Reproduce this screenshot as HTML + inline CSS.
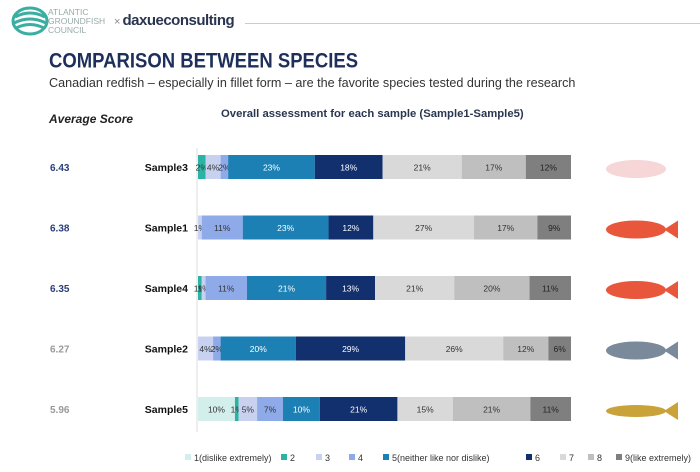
<!DOCTYPE html>
<html><head><meta charset="utf-8"><style>
body{margin:0;width:700px;height:472px;background:#fff;font-family:"Liberation Sans","Noto Sans CJK SC",sans-serif;overflow:hidden;position:relative}
.a{position:absolute}
</style></head><body>
<svg class="a" style="left:10px;top:5px" width="40" height="32" viewBox="0 0 40 32"><ellipse cx="20" cy="16" rx="17" ry="13" fill="none" stroke="#3aaea0" stroke-width="3"/><path d="M5 12 Q20 4 35 12 M4 18 Q20 10 36 18 M6 23 Q20 16 34 23" fill="none" stroke="#3aaea0" stroke-width="3"/></svg>
<div class="a" style="left:48px;top:8px;font-size:8.5px;line-height:9px;color:#9aa">ATLANTIC<br>GROUNDFISH<br>COUNCIL</div>
<div class="a" style="left:114px;top:12px;font-size:15px;font-weight:bold;color:#2a3550;letter-spacing:-0.5px"><span style="font-weight:normal;color:#888;font-size:11px">× </span>daxueconsulting</div>
<div class="a" style="left:245px;top:23px;width:455px;height:1px;background:#ccc"></div>
<div class="a" style="left:49px;top:48px;font-size:18.5px;font-weight:bold;color:#1d2f5a;transform:scaleY(1.15);transform-origin:left top">COMPARISON BETWEEN SPECIES</div>
<div class="a" style="left:49px;top:76px;font-size:12.6px;color:#333">Canadian redfish – especially in fillet form – are the favorite species tested during the research</div>
<div class="a" style="left:49px;top:112px;font-size:12px;font-weight:bold;font-style:italic;color:#222">Average Score</div>
<div class="a" style="left:221px;top:108px;font-size:11.3px;font-weight:bold;color:#2a3550">Overall assessment for each sample (Sample1-Sample5)</div>
<svg id="c" class="a" style="left:0;top:0" width="700" height="472"></svg>
<script>
const samples=["Sample3","Sample1","Sample4","Sample2","Sample5"];
const scores=["6.43","6.38","6.35","6.27","5.96"];
const scoreColors=["#2a3f7a","#2a3f7a","#2a3f7a","#999","#999"];
const levels=["1(dislike extremely)","2","3","4","5(neither like nor dislike)","6","7","8","9(like extremely)"];
const s1=[0,0,0,0,10];
const s2=[2,0,1,0,1];
const s3=[4,1,1,4,5];
const s4=[2,11,11,2,7];
const s5=[23,23,21,20,10];
const s6=[18,12,13,29,21];
const s7=[21,27,21,26,15];
const s8=[17,17,20,12,21];
const s9=[12,9,11,6,11];
const series=[s1,s2,s3,s4,s5,s6,s7,s8,s9];
const colors=["#d3efec","#2db3a4","#c8d2f0","#8eaae9","#1c80b5","#122f6e","#d9d9d9","#bfbfbf","#7f7f7f"];
const txt=["#333","#333","#333","#333","#fff","#fff","#333","#333","#222"];
const NS="http://www.w3.org/2000/svg",svg=document.getElementById("c");
const x0=198,W=373,y0=167,dy=60.5,bh=24;
const yPos=i=>y0+i*dy;
function el(t,a,p){const e=document.createElementNS(NS,t);for(const k in a)e.setAttribute(k,a[k]);(p||svg).appendChild(e);return e;}
const ax=el("line",{x1:197,x2:197,y1:148,y2:432,stroke:"#ddd"});


const fishCol=["#f6d6d6","#e8563c","#e8563c","#7a8a9a","#c9a23a"];
samples.forEach((s,i)=>{
  const tot=series.reduce((a,r)=>a+r[i],0);
  const xs=v=>v/tot*W;
  let x=x0;const cy=yPos(i);
  const sc=el("text",{x:50,y:cy+4,"font-size":10,"font-weight":"bold",fill:scoreColors[i]});sc.textContent=scores[i];
  
  
  const lb=el("text",{x:188,y:cy+4,"font-size":10.5,"font-weight":"bold","text-anchor":"end",fill:"#111"});lb.textContent=s;
  
  
  series.forEach((r,k)=>{
    const v=r[i];if(!v)return;const w=xs(v);
    const rc=el("rect",{x:x,y:cy-bh/2,width:w,height:bh,fill:colors[k]});
    
    
    const t=el("text",{x:x+w/2,y:cy+3.5,"font-size":8.5,"text-anchor":"middle",fill:txt[k]});t.textContent=v+"%";
    
    
    x+=w;
  });
  const g=el("g",{});
  
  
  el("ellipse",{cx:636,cy:cy+2,rx:30,ry:i==4?6:9,fill:fishCol[i]},g);
  if(i>0)el("path",{d:`M664 ${cy+2} L678 ${cy-7} L678 ${cy+11} Z`,fill:fishCol[i]},g);
});
const lx=[185,281,316,349,383,526,560,588,616];
levels.forEach((l,k)=>{
  const r=el("rect",{x:lx[k],y:454,width:6,height:6,fill:colors[k]});
  
  
  const t=el("text",{x:lx[k]+9,y:461,"font-size":9,fill:"#333"});t.textContent=l;
  
  
});
</script>
</body></html>
